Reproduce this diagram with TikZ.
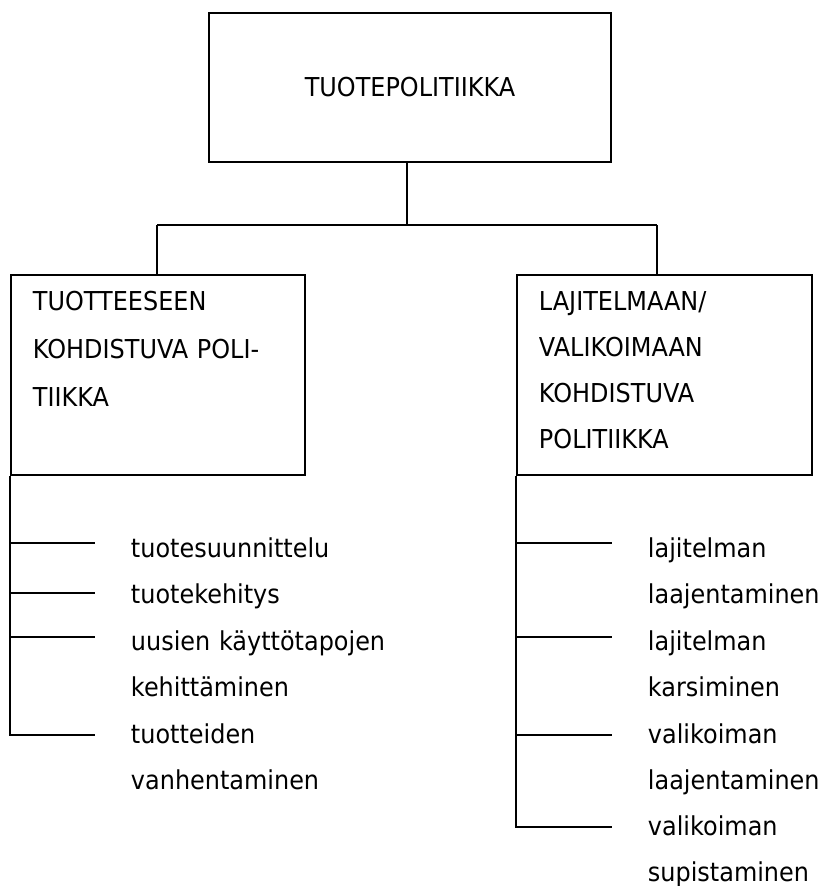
\documentclass[tikz,border=0pt]{standalone}
\usepackage{fontspec}
\setmainfont[FakeStretch=0.92]{DejaVu Sans}

\begin{document}
\begin{tikzpicture}[x=0.025cm,y=-0.025cm,line width=1.4pt]
		\tikzstyle{every node}+=[inner sep=0pt]
		\tikzstyle{laatikko}=[draw, rectangle, font=\fontsize{18.5}{22}\selectfont]
		\tikzstyle{teksti}=[anchor=base west, align=left, text width=7.5cm]
		\useasboundingbox (0,0) rectangle (820,886);
		\node [laatikko, minimum width=10.05cm, minimum height=3.7cm] (tuote) at (410,87.5) {TUOTEPOLITIIKKA};
		\node [laatikko, minimum width=7.35cm, minimum height=5cm] (vasen) at (158,375) {};
		\node [laatikko, minimum width=7.375cm, minimum height=5cm] (oikea) at (664.5,375) {};
		\node [teksti, font=\fontsize{18.5}{34.3}\selectfont] (vasenteksti) at (32,310) {TUOTTEESEEN\\KOHDISTUVA POLI-\\TIIKKA};
		\node [teksti, font=\fontsize{18.5}{32.8}\selectfont] (oikeateksti) at (538,310) {LAJITELMAAN/\\VALIKOIMAAN\\KOHDISTUVA\\POLITIIKKA};
		\coordinate (keski) at (407,225);
		\coordinate (haaraV) at (157,225);
		\coordinate (haaraO) at (657,225);
		\draw (tuote.south -| keski) -- (keski);
		\draw (haaraV) -- (haaraO);
		\draw (haaraV) -- (haaraV |- vasen.north);
		\draw (haaraO) -- (haaraO |- oikea.north);
		% tuotteeseen kohdistuva
		\node [teksti, font=\fontsize{18.5}{33}\selectfont] (v1) at (130,557) {tuotesuunnittelu};
		\node [teksti, font=\fontsize{18.5}{33}\selectfont] (v2) at (130,603) {tuotekehitys};
		\node [teksti, font=\fontsize{18.5}{33}\selectfont] (v3) at (130,650) {uusien käyttötapojen\\kehittäminen};
		\node [teksti, font=\fontsize{18.5}{33}\selectfont] (v4) at (130,743) {tuotteiden\\vanhentaminen};
		\coordinate (vp1) at (95,543);
		\coordinate (vp2) at (95,593);
		\coordinate (vp3) at (95,637);
		\coordinate (vp4) at (95,735);
		\draw (vasen.south west) -- (vasen.south west |- vp4) -- (vp4);
		\draw (vasen.south west |- vp1) -- (vp1);
		\draw (vasen.south west |- vp2) -- (vp2);
		\draw (vasen.south west |- vp3) -- (vp3);
		% lajitelmaan kohdistuva
		\node [teksti, font=\fontsize{18.5}{33}\selectfont] (o1) at (647,557) {lajitelman\\laajentaminen};
		\node [teksti, font=\fontsize{18.5}{33}\selectfont] (o2) at (647,650) {lajitelman\\karsiminen};
		\node [teksti, font=\fontsize{18.5}{33}\selectfont] (o3) at (647,743) {valikoiman\\laajentaminen};
		\node [teksti, font=\fontsize{18.5}{33}\selectfont] (o4) at (647,835) {valikoiman\\supistaminen};
		\coordinate (op1) at (612,543);
		\coordinate (op2) at (612,637);
		\coordinate (op3) at (612,735);
		\coordinate (op4) at (612,827);
		\draw (oikea.south west) -- (oikea.south west |- op4) -- (op4);
		\draw (oikea.south west |- op1) -- (op1);
		\draw (oikea.south west |- op2) -- (op2);
		\draw (oikea.south west |- op3) -- (op3);
	\end{tikzpicture}
\end{document}
